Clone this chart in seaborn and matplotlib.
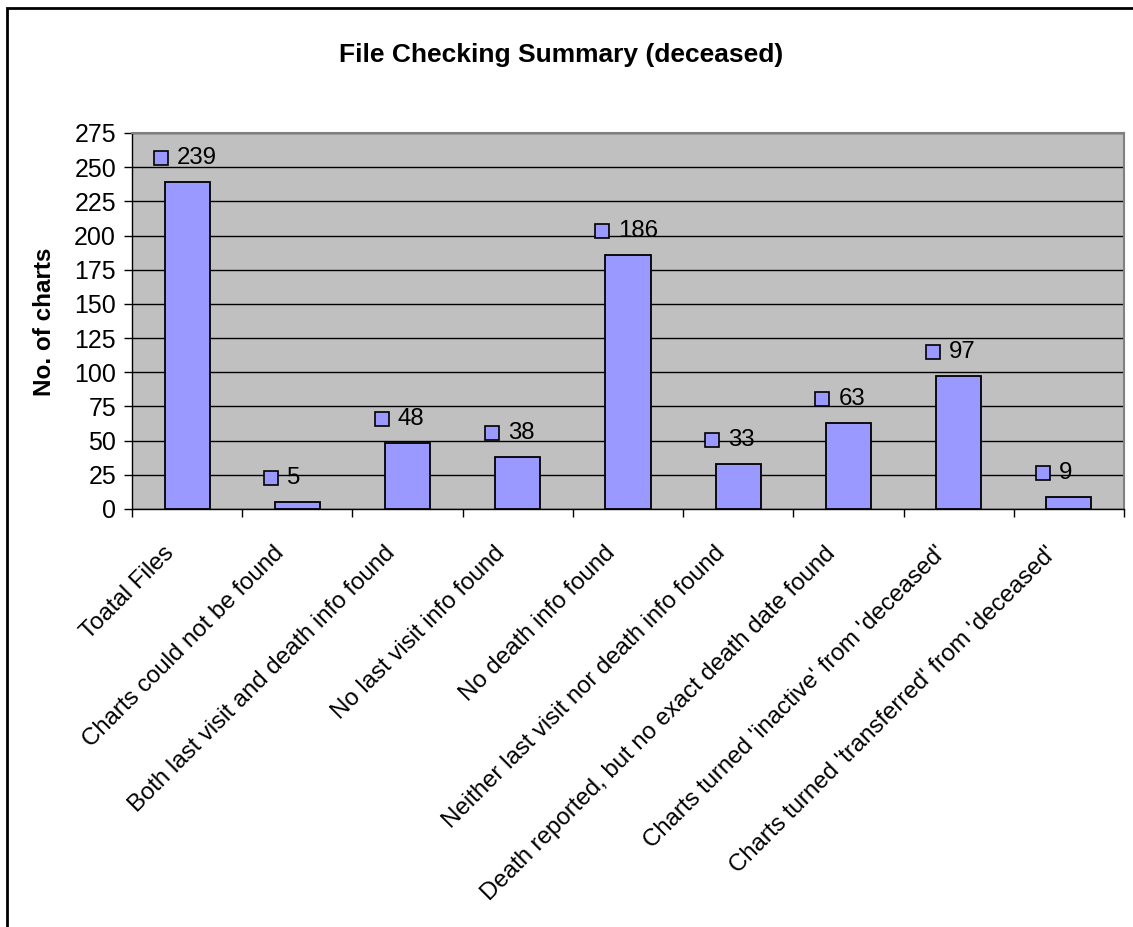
import matplotlib
matplotlib.use("Agg")
import matplotlib.pyplot as plt
import matplotlib.transforms as mtransforms
from matplotlib.patches import Rectangle
import seaborn as sns
import pandas as pd
import numpy as np

categories = [
    "Toatal Files",
    "Charts could not be found",
    "Both last visit and death info found",
    "No last visit info found",
    "No death info found",
    "Neither last visit nor death info found",
    "Death reported, but no exact death date found",
    "Charts turned 'inactive' from 'deceased'",
    "Charts turned 'transferred' from 'deceased'",
]
values = [239, 5, 48, 38, 186, 33, 63, 97, 9]
y_ticks = [0, 25, 50, 75, 100, 125, 150, 175, 200, 225, 250, 275]

title = "File Checking Summary (deceased)"
y_label = "No. of charts"

sns.set_theme(style="white")
plt.rcParams["font.family"] = ["Liberation Sans", "DejaVu Sans"]
plt.rcParams["text.color"] = "black"
plt.rcParams["xtick.color"] = "black"
plt.rcParams["ytick.color"] = "black"
plt.rcParams["axes.labelcolor"] = "black"

bar_color = "#9999FF"
bg_color = "#C0C0C0"

fig = plt.figure(figsize=(11.33, 9.27), dpi=100)
ax = fig.add_axes([132 / 1133, 1 - 509 / 927, (1124 - 132) / 1133, (509 - 133) / 927])

df = pd.DataFrame({"cat": categories, "val": values})
sns.barplot(data=df, x="cat", y="val", ax=ax, color=bar_color, saturation=1,
            width=0.41, edgecolor="black", linewidth=1.3, zorder=3)

ax.set_facecolor(bg_color)
ax.set_xlim(-0.5, len(categories) - 0.5)
ax.set_ylim(0, 275)
ax.set_yticks(y_ticks)
ax.set_yticklabels([str(t) for t in y_ticks], fontsize=18)
ax.yaxis.grid(True, color="black", linewidth=1.0, zorder=0)
ax.xaxis.grid(False)
ax.set_axisbelow(True)

# x tick labels at bar centers, tick marks at boundaries
ax.set_xticks(range(len(categories)))
ax.set_xticklabels(categories, rotation=45, ha="right", va="top",
                   rotation_mode="anchor", fontsize=17.3)
ax.tick_params(axis="x", which="major", length=0, pad=24)
shift = mtransforms.ScaledTranslation(-24 / 100, 0, fig.dpi_scale_trans)
for lbl in ax.get_xticklabels():
    lbl.set_transform(lbl.get_transform() + shift)
ax.set_xticks(np.arange(-0.5, len(categories), 1.0), minor=True)
ax.tick_params(axis="x", which="minor", length=6, width=1, color="black", bottom=True)
ax.tick_params(axis="y", which="major", length=6, width=1, color="black", left=True, pad=5.5)

ax.set_xlabel("")
ax.set_ylabel("")
fig.text(45 / 1133, 1 - 322 / 927, y_label, rotation=90, ha="center", va="center",
         fontsize=17.5, fontweight="bold")

for side in ["top", "right"]:
    ax.spines[side].set_color("#808080")
    ax.spines[side].set_linewidth(1.5)
for side in ["left", "bottom"]:
    ax.spines[side].set_color("black")
    ax.spines[side].set_linewidth(1.0)

# value labels with legend-key squares
for i, v in enumerate(values):
    sq_tr = mtransforms.offset_copy(ax.transData, fig=fig, x=-26, y=24, units="dots")
    ax.plot([i], [v], marker="s", markersize=10, markerfacecolor=bar_color,
            markeredgecolor="black", markeredgewidth=1.2, transform=sq_tr,
            clip_on=False, zorder=5, linestyle="none")
    tx_tr = mtransforms.offset_copy(ax.transData, fig=fig, x=-10, y=24, units="dots")
    ax.text(i, v, str(v), transform=tx_tr, fontsize=17.3, ha="left", va="center", zorder=5)

fig.text(561 / 1133, 1 - 55 / 927, title, ha="center", va="center",
         fontsize=19, fontweight="bold")

# outer chart border (top and left visible)
border = Rectangle((7 / 1133, -0.1), 1.2, (927 - 8) / 927 + 0.1, transform=fig.transFigure,
                   fill=False, edgecolor="black", linewidth=2.0, clip_on=False)
fig.patches.append(border)

fig.savefig("out.png", dpi=100, facecolor="white")
